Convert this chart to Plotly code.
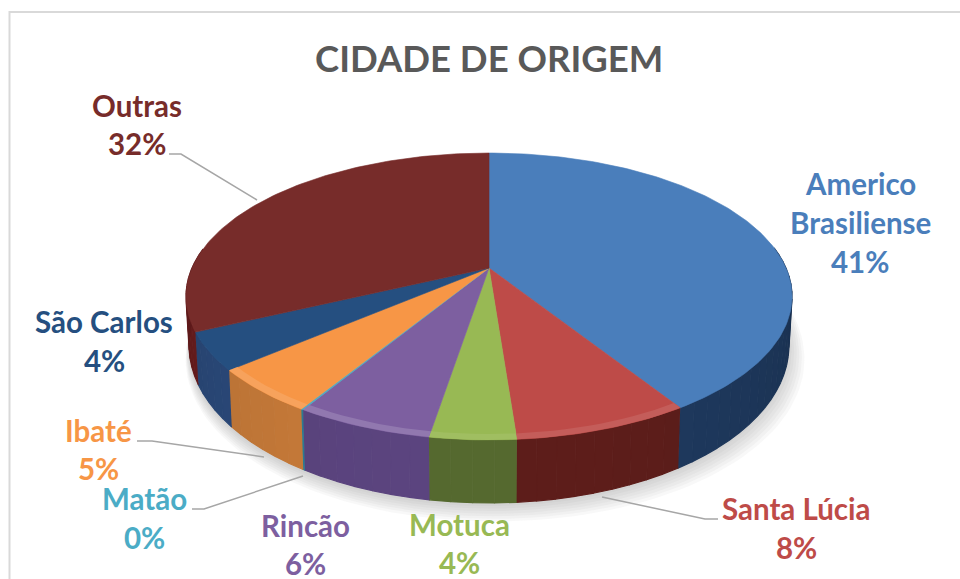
import numpy as np
import plotly.graph_objects as go

# ---- data
categories = ["Americo Brasiliense", "Santa Lúcia", "Motuca", "Rincão", "Matão", "Ibaté", "São Carlos", "Outras"]
shares = [41.0, 7.8, 3.8, 6.1, 0.1, 5.0, 4.2, 32.0]
title_text = "CIDADE DE ORIGEM"

# ---- styles
top_colors = ["#4A7EBB", "#BE4B48", "#98B954", "#7D5FA0", "#4BACC6", "#F79646", "#254F80", "#772C2A"]
side_colors = ["#1F3A5F", "#5E1E1B", "#566A30", "#5C4580", "#2F7F95", "#C97C3A", "#2C4C7E", "#701F20"]
label_colors = ["#4A7EBB", "#BE4B48", "#98B954", "#7D5FA0", "#4BACC6", "#F79646", "#254F80", "#772C2A"]
bevel_strength = [0.0, 0.10, 0.08, 0.16, 0.0, 0.12, 0.0, 0.0]

# ---- label placement (pixel centres of every text line)
label_lines = {
    "Americo Brasiliense": (860, [183.5, 222.5, 261.5], ["Americo", "Brasiliense"]),
    "Santa Lúcia": (796, [508.5, 547.5], ["Santa Lúcia"]),
    "Motuca": (459, [524.5, 562.5], ["Motuca"]),
    "Rincão": (305, [525.5, 563.5], ["Rincão"]),
    "Matão": (144, [498.5, 537.5], ["Matão"]),
    "Ibaté": (98, [430.5, 468.5], ["Ibaté"]),
    "São Carlos": (104, [321.5, 360.5], ["São Carlos"]),
    "Outras": (137, [105.5, 143.5], ["Outras"]),
}
leaders = [
    ([169, 181, 257], [154, 154, 200]),
    ([718, 705, 602], [519, 519, 497]),
    ([137, 152, 264], [441, 441, 457]),
    ([192, 204, 303], [509, 509, 476]),
]

# ---- projection of the tilted disc
CX, CY, R, B, K = 489.0, 268.0, 297.0, 137.8, 0.1986
D0, D1 = 45.0, 18.0


def top_xy(theta, r=1.0):
    u, v = r * np.sin(theta), -r * np.cos(theta)
    w = 1 - K * v
    return CX + R * u / w, CY + B * v / w


def bottom_xy(theta, extra=0.0, r=1.0):
    x, y = top_xy(theta, r)
    v = -np.cos(theta)
    return CX + (x - CX) * 0.99, y + D0 + D1 * v + extra


def shade(color, f):
    c = [int(color[i:i + 2], 16) for i in (1, 3, 5)]
    if f <= 1:
        c = [int(a * f) for a in c]
    else:
        c = [int(a + (255 - a) * (f - 1)) for a in c]
    return "rgb(%d,%d,%d)" % tuple(c)


fig = go.Figure()


def poly(xs, ys, color, seam=1.0):
    fig.add_trace(go.Scatter(
        x=list(xs), y=list(ys), mode="lines", fill="toself", fillcolor=color,
        line=dict(color=color, width=seam), hoverinfo="skip", showlegend=False))


total = sum(shares)
edges = np.cumsum([0] + shares) / total * 2 * np.pi

# soft shadow under the disc
full = np.linspace(0, 2 * np.pi, 181)
for i in range(7):
    r = 1.0 + 0.005 * i
    sx, sy = bottom_xy(full, extra=3 + i * 1.5, r=r)
    poly(sx + i * 1.0, sy, "rgba(120,120,120,0.05)", seam=0)

# rim, drawn back to front
for i, (a0, a1) in enumerate(zip(edges[:-1], edges[1:])):
    n = max(2, int((a1 - a0) / np.radians(3)) + 1)
    t = np.linspace(a0, a1, n)
    for s0, s1 in zip(t[:-1], t[1:]):
        v = -np.cos((s0 + s1) / 2)
        if v < -0.15:
            continue
        f = 0.82 + 0.18 * max(v, 0)
        seg = np.array([s0, s1])
        tx, ty = top_xy(seg)
        bx, by = bottom_xy(seg)
        poly(list(tx) + list(bx[::-1]), list(ty) + list(by[::-1]), shade(side_colors[i], f), seam=1.2)

# top faces
for i, (a0, a1) in enumerate(zip(edges[:-1], edges[1:])):
    t = np.linspace(a0, a1, max(3, int((a1 - a0) / np.radians(1)) + 1))
    x, y = top_xy(t)
    poly([CX] + list(x) + [CX], [CY] + list(y) + [CY], top_colors[i], seam=0.6)

# lighter bevel on the front edge of the top faces
for i, (a0, a1) in enumerate(zip(edges[:-1], edges[1:])):
    if bevel_strength[i] == 0:
        continue
    t = np.linspace(a0, a1, max(3, int((a1 - a0) / np.radians(2)) + 1))
    ox, oy = top_xy(t, 1.0)
    ix, iy = top_xy(t, 0.972)
    poly(list(ox) + list(ix[::-1]), list(oy) + list(iy[::-1]), shade(top_colors[i], 1 + bevel_strength[i]), seam=0)

# leader lines
for lx, ly in leaders:
    fig.add_trace(go.Scatter(x=lx, y=ly, mode="lines", line=dict(color="#A6A6A6", width=1.5),
                             hoverinfo="skip", showlegend=False))

# labels, one annotation per text line
annotations = []
FONT = "Lato, 'Open Sans', sans-serif"
for name, share, col in zip(categories, shares, label_colors):
    x, ys, words = label_lines[name]
    for line, y in zip(words + [f"{round(share)}%"], ys):
        annotations.append(dict(x=x, y=y, xref="x", yref="y", text=f"<b>{line}</b>", showarrow=False,
                                xanchor="center", yanchor="middle",
                                font=dict(family=FONT, size=29.5, color=col)))
annotations.append(dict(x=489, y=58, xref="x", yref="y", text=f"<b>{title_text}</b>", showarrow=False,
                        xanchor="center", yanchor="middle", font=dict(family=FONT, size=36.5, color="#595959")))

fig.update_layout(
    width=960, height=579, margin=dict(l=0, r=0, t=0, b=0),
    paper_bgcolor="white", plot_bgcolor="white", showlegend=False,
    xaxis=dict(range=[0, 960], visible=False, fixedrange=True),
    yaxis=dict(range=[579, 0], visible=False, fixedrange=True),
    annotations=annotations,
    shapes=[dict(type="path", path="M 9.5 579 L 9.5 12 L 960 12", xref="x", yref="y",
                 line=dict(color="#D9D9D9", width=2), layer="below")],
)
fig.write_html("out.html", config=dict(displayModeBar=False),
               post_script="document.body.style.margin='0';document.documentElement.style.overflow='hidden';")
